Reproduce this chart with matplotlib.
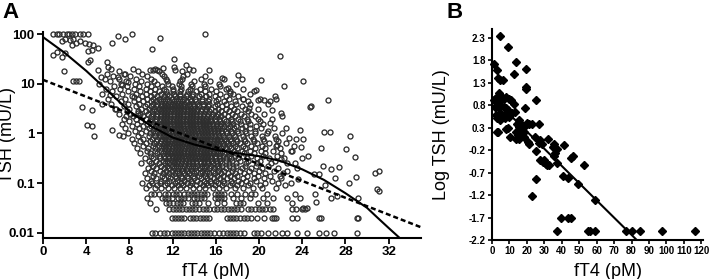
import matplotlib
matplotlib.use("Agg")
import matplotlib.pyplot as plt
import numpy as np

plt.rcParams["font.family"] = ["Liberation Sans", "DejaVu Sans"]

# ---------------- panel A data ----------------
# quantized low TSH rows (mU/L) and the fT4 values (pM) on each
low_tsh = [0.01, 0.02, 0.03, 0.04, 0.05, 0.06]
low_ft4 = [
    [10.1, 10.4, 10.8, 11.2, 11.5, 11.9, 12.2, 12.5, 12.8, 13.1, 13.4, 13.7, 14.0, 14.3,
     14.6, 14.9, 15.2, 15.5, 15.8, 16.3, 16.7, 17.0, 17.3, 17.6, 17.9, 18.2, 18.6, 19.5,
     19.8, 20.2, 20.8, 21.5, 22.1, 22.6, 23.5, 24.4, 25.6, 26.2, 26.9, 29.1],
    [11.9, 12.2, 12.5, 12.8, 13.1, 13.6, 13.9, 14.2, 14.5, 14.8, 15.1, 15.4, 17.0, 17.3,
     17.6, 17.9, 18.2, 18.6, 18.9, 19.3, 19.8, 20.5, 21.2, 21.4, 21.6, 23.1, 23.5, 25.6, 29.1],
    [10.5, 11.7, 12.0, 12.3, 12.6, 12.9, 13.2, 13.5, 13.8, 14.1, 14.4, 14.8, 15.1, 15.4,
     15.8, 16.1, 16.5, 16.8, 17.1, 17.4, 17.7, 18.0, 18.3, 19.0, 19.3, 19.6, 20.0, 20.3,
     20.6, 21.0, 21.3, 23.1, 23.4, 24.0, 24.3],
    [9.9, 11.4, 11.7, 12.0, 12.4, 12.7, 13.0, 13.8, 14.1, 14.4, 15.3, 16.1, 16.8, 17.9,
     18.2, 18.5, 19.9, 20.7, 23.1],
    [9.6, 11.0, 11.3, 11.6, 11.9, 12.5, 12.8, 13.1, 13.4, 14.0, 14.3, 14.6, 14.9, 15.9,
     16.2, 16.5, 16.8, 17.6, 18.3, 19.2, 20.4, 21.3, 22.6, 23.8],
    [10.0, 10.3, 10.7, 11.3, 11.6, 12.0, 12.3, 12.6, 13.1, 13.4, 13.7, 14.0, 14.3, 14.6,
     14.9, 15.2, 15.9, 16.2, 16.5, 16.8, 17.4, 18.0, 18.7, 19.3, 19.6, 20.7, 23.3],
]

# main cloud, read row by row
cloud_tsh = [0.08, 0.09, 0.10, 0.11, 0.13, 0.14, 0.16, 0.18, 0.20, 0.22, 0.25, 0.28,
             0.32, 0.35, 0.40, 0.45, 0.50, 0.56, 0.63, 0.71, 0.79, 0.89, 1.0, 1.12,
             1.26, 1.41, 1.58, 1.78, 2.0, 2.24, 2.51, 2.82, 3.16, 3.55, 3.98, 4.47,
             5.01, 5.62, 6.31, 7.08, 7.94, 8.91, 10.0, 11.2, 12.6, 14.1, 15.8, 17.8, 20.0]
cloud_ft4 = [
    [9.5, 10.4, 10.9, 11.6, 12.1, 12.7, 13.2, 13.9, 14.4, 15.0, 15.7, 16.3, 16.9, 17.8, 18.5, 19.4, 20.3, 21.6],
    [9.8, 10.6, 11.3, 11.9, 12.5, 13.0, 13.6, 14.2, 14.8, 15.3, 15.9, 16.6, 17.3, 18.0, 19.0, 20.1, 22.4],
    [9.2, 10.1, 10.8, 11.5, 12.2, 12.8, 13.3, 13.8, 14.5, 15.1, 15.6, 16.2, 16.8, 17.5, 18.3, 19.2, 20.6, 21.8, 23.0],
    [10.0, 10.9, 11.7, 12.4, 13.1, 13.7, 14.3, 14.9, 15.5, 16.0, 16.7, 17.4, 18.1, 18.8, 19.7, 21.2],
    [9.6, 10.5, 11.2, 11.8, 12.3, 12.9, 13.4, 14.0, 14.6, 15.2, 15.8, 16.4, 17.0, 17.7, 18.5, 19.5, 20.5, 22.0],
    [10.2, 11.0, 11.6, 12.2, 12.8, 13.3, 13.9, 14.4, 15.0, 15.5, 16.1, 16.7, 17.3, 18.0, 18.9, 19.9, 21.0],
    [9.4, 10.3, 11.1, 11.7, 12.2, 12.6, 13.1, 13.5, 14.0, 14.5, 15.0, 15.4, 15.9, 16.5, 17.1, 17.8, 18.6, 19.5, 20.6, 22.2],
    [10.0, 10.8, 11.4, 11.9, 12.4, 12.9, 13.3, 13.8, 14.2, 14.7, 15.2, 15.7, 16.2, 16.8, 17.5, 18.2, 19.1, 20.0, 21.4],
    [9.7, 10.5, 11.2, 11.7, 12.1, 12.5, 12.9, 13.3, 13.7, 14.1, 14.5, 14.9, 15.4, 15.8, 16.3, 16.9, 17.6, 18.4, 19.3, 20.3, 21.8, 23.5],
    [10.2, 10.9, 11.5, 11.9, 12.3, 12.7, 13.1, 13.5, 13.9, 14.3, 14.7, 15.1, 15.6, 16.1, 16.6, 17.2, 17.9, 18.7, 19.7, 20.8],
    [9.1, 10.0, 10.7, 11.3, 11.7, 12.1, 12.4, 12.8, 13.1, 13.5, 13.8, 14.2, 14.6, 14.9, 15.3, 15.7, 16.1, 16.6, 17.2, 17.9, 18.8, 19.8, 21.1, 22.6],
    [9.8, 10.5, 11.1, 11.5, 11.9, 12.2, 12.5, 12.9, 13.2, 13.5, 13.9, 14.2, 14.5, 14.9, 15.2, 15.6, 16.0, 16.4, 16.9, 17.5, 18.2, 19.0, 20.1, 21.5],
    [9.4, 10.2, 10.8, 11.3, 11.7, 12.0, 12.3, 12.6, 12.9, 13.2, 13.5, 13.8, 14.1, 14.4, 14.7, 15.0, 15.3, 15.6, 16.0, 16.4, 16.9, 17.4, 18.1, 18.9, 19.8, 20.9, 22.3, 24.0],
    [10.0, 10.7, 11.2, 11.6, 11.9, 12.2, 12.5, 12.8, 13.1, 13.4, 13.7, 14.0, 14.3, 14.6, 14.9, 15.2, 15.5, 15.9, 16.3, 16.7, 17.2, 17.8, 18.5, 19.3, 20.4, 21.7],
    [9.0, 9.9, 10.6, 11.1, 11.5, 11.8, 12.1, 12.4, 12.7, 13.0, 13.3, 13.6, 13.9, 14.2, 14.5, 14.8, 15.1, 15.4, 15.7, 16.0, 16.4, 16.8, 17.3, 17.9, 18.6, 19.5, 20.6, 22.0],
    [9.6, 10.4, 10.9, 11.3, 11.6, 11.9, 12.2, 12.5, 12.8, 13.1, 13.4, 13.7, 14.0, 14.3, 14.6, 14.9, 15.2, 15.5, 15.8, 16.2, 16.6, 17.1, 17.7, 18.4, 19.2, 20.2, 21.3, 23.1],
    [8.7, 9.7, 10.4, 10.9, 11.3, 11.6, 11.9, 12.2, 12.5, 12.8, 13.1, 13.4, 13.7, 14.0, 14.3, 14.6, 14.9, 15.2, 15.5, 15.8, 16.1, 16.5, 16.9, 17.4, 18.0, 18.7, 19.6, 20.6, 21.9],
    [9.3, 10.2, 10.7, 11.1, 11.4, 11.7, 12.0, 12.3, 12.6, 12.9, 13.2, 13.5, 13.8, 14.1, 14.4, 14.7, 15.0, 15.3, 15.6, 15.9, 16.3, 16.7, 17.2, 17.8, 18.5, 19.3, 20.3, 21.6, 23.2],
    [8.4, 9.5, 10.3, 10.8, 11.2, 11.5, 11.8, 12.1, 12.4, 12.7, 13.0, 13.3, 13.6, 13.9, 14.2, 14.5, 14.8, 15.1, 15.4, 15.7, 16.0, 16.3, 16.7, 17.1, 17.6, 18.2, 18.9, 19.8, 20.9, 22.5],
    [9.0, 9.9, 10.5, 10.9, 11.3, 11.6, 11.9, 12.2, 12.5, 12.8, 13.1, 13.4, 13.7, 14.0, 14.3, 14.6, 14.9, 15.2, 15.5, 15.8, 16.1, 16.5, 16.9, 17.4, 18.0, 18.7, 19.5, 20.5, 21.8],
    [8.2, 9.3, 10.1, 10.6, 11.0, 11.3, 11.6, 11.9, 12.2, 12.5, 12.8, 13.1, 13.4, 13.7, 14.0, 14.3, 14.6, 14.9, 15.2, 15.5, 15.8, 16.1, 16.4, 16.8, 17.3, 17.9, 18.6, 19.4, 20.4, 21.6, 23.4],
    [8.8, 9.8, 10.4, 10.8, 11.1, 11.4, 11.7, 12.0, 12.3, 12.6, 12.9, 13.2, 13.5, 13.8, 14.1, 14.4, 14.7, 15.0, 15.3, 15.6, 15.9, 16.3, 16.7, 17.2, 17.8, 18.5, 19.3, 20.3, 21.5],
    [7.9, 9.1, 9.9, 10.4, 10.8, 11.1, 11.4, 11.7, 12.0, 12.3, 12.6, 12.9, 13.2, 13.5, 13.8, 14.1, 14.4, 14.7, 15.0, 15.3, 15.6, 15.9, 16.2, 16.6, 17.0, 17.5, 18.1, 18.8, 19.6, 20.7, 22.1],
    [8.5, 9.5, 10.2, 10.6, 11.0, 11.3, 11.6, 11.9, 12.2, 12.5, 12.8, 13.1, 13.4, 13.7, 14.0, 14.3, 14.6, 14.9, 15.2, 15.5, 15.8, 16.1, 16.5, 16.9, 17.4, 18.0, 18.7, 19.6, 20.8],
    [7.6, 8.9, 9.8, 10.3, 10.7, 11.0, 11.3, 11.6, 11.9, 12.2, 12.5, 12.8, 13.1, 13.4, 13.7, 14.0, 14.3, 14.6, 14.9, 15.2, 15.5, 15.8, 16.2, 16.6, 17.1, 17.7, 18.4, 19.2, 20.2, 21.4],
    [8.2, 9.3, 10.0, 10.5, 10.9, 11.2, 11.5, 11.8, 12.1, 12.4, 12.7, 13.0, 13.3, 13.6, 13.9, 14.2, 14.5, 14.8, 15.1, 15.4, 15.7, 16.0, 16.4, 16.8, 17.3, 17.9, 18.7, 19.7],
    [7.3, 8.7, 9.6, 10.2, 10.6, 10.9, 11.2, 11.5, 11.8, 12.1, 12.4, 12.7, 13.0, 13.3, 13.6, 13.9, 14.2, 14.5, 14.8, 15.1, 15.4, 15.7, 16.1, 16.5, 17.0, 17.6, 18.3, 19.2, 20.4],
    [8.0, 9.1, 9.9, 10.4, 10.8, 11.1, 11.4, 11.7, 12.0, 12.3, 12.6, 12.9, 13.2, 13.5, 13.8, 14.1, 14.4, 14.7, 15.0, 15.3, 15.6, 16.0, 16.4, 16.9, 17.5, 18.2, 19.0, 20.1],
    [7.5, 8.6, 9.5, 10.1, 10.5, 10.9, 11.2, 11.5, 11.8, 12.1, 12.4, 12.7, 13.0, 13.3, 13.6, 13.9, 14.2, 14.5, 14.8, 15.1, 15.5, 15.9, 16.3, 16.8, 17.4, 18.1, 18.9, 19.9, 21.2],
    [8.3, 9.3, 10.0, 10.5, 10.9, 11.2, 11.5, 11.8, 12.1, 12.4, 12.7, 13.0, 13.3, 13.6, 13.9, 14.2, 14.5, 14.8, 15.2, 15.6, 16.0, 16.5, 17.1, 17.8, 18.6, 19.6],
    [7.0, 8.1, 9.0, 9.7, 10.2, 10.6, 10.9, 11.2, 11.5, 11.8, 12.1, 12.4, 12.7, 13.0, 13.3, 13.6, 13.9, 14.2, 14.5, 14.9, 15.3, 15.7, 16.2, 16.8, 17.5, 18.3, 19.3, 20.5],
    [7.8, 8.8, 9.5, 10.1, 10.5, 10.9, 11.2, 11.5, 11.8, 12.1, 12.4, 12.7, 13.0, 13.3, 13.6, 13.9, 14.2, 14.6, 15.0, 15.4, 15.9, 16.5, 17.2, 18.0, 19.0],
    [6.7, 8.0, 9.1, 9.8, 10.3, 10.7, 11.0, 11.3, 11.6, 11.9, 12.2, 12.5, 12.8, 13.1, 13.4, 13.7, 14.0, 14.3, 14.7, 15.1, 15.6, 16.2, 16.9, 17.7, 18.7, 19.9],
    [7.5, 8.6, 9.4, 10.0, 10.5, 10.9, 11.2, 11.5, 11.8, 12.1, 12.4, 12.7, 13.0, 13.3, 13.6, 14.0, 14.4, 14.8, 15.3, 15.9, 16.6, 17.4, 18.4],
    [6.3, 7.9, 8.9, 9.6, 10.2, 10.6, 11.0, 11.3, 11.6, 11.9, 12.2, 12.5, 12.8, 13.1, 13.5, 13.9, 14.3, 14.8, 15.4, 16.1, 16.9, 17.9, 19.2, 20.8],
    [7.2, 8.4, 9.3, 10.0, 10.5, 10.9, 11.3, 11.7, 12.1, 12.5, 12.9, 13.3, 13.7, 14.2, 14.7, 15.3, 16.0, 16.8, 17.8, 19.0],
    [6.0, 7.6, 8.8, 9.6, 10.2, 10.7, 11.1, 11.5, 11.9, 12.3, 12.7, 13.1, 13.6, 14.1, 14.7, 15.4, 16.2, 17.2, 18.5, 20.1, 21.6],
    [6.8, 8.2, 9.2, 10.0, 10.6, 11.2, 11.7, 12.2, 12.7, 13.2, 13.8, 14.4, 15.1, 15.9, 16.9, 18.1],
    [5.5, 7.3, 8.6, 9.5, 10.3, 10.9, 11.5, 12.1, 12.7, 13.3, 13.9, 14.6, 15.4, 16.4, 17.6, 19.2],
    [6.4, 7.9, 9.0, 9.9, 10.7, 11.4, 12.0, 12.7, 13.4, 14.2, 15.0, 16.0, 17.3],
    [5.8, 7.1, 8.4, 9.5, 10.4, 11.2, 12.0, 12.8, 13.6, 14.5, 15.6, 16.9, 18.5],
    [6.6, 7.8, 8.9, 10.0, 11.0, 11.9, 12.8, 13.8, 15.0, 16.4],
    [5.2, 7.2, 8.5, 9.6, 10.6, 11.6, 12.6, 13.7, 14.9, 16.3, 17.9],
    [6.2, 7.7, 9.1, 10.3, 11.5, 12.7, 14.0, 15.5],
    [5.7, 7.0, 8.6, 10.0, 11.4, 12.9, 14.6, 16.8],
    [6.5, 8.1, 9.6, 11.2, 13.0, 15.0],
    [5.9, 7.5, 9.2, 11.0, 13.3],
    [7.0, 8.8, 10.7, 12.9],
    [6.3, 8.3, 10.4, 13.5],
]

# scattered single points outside the cloud
spread_ft4 = [0.95, 1.26, 1.5, 1.88, 2.2, 2.4, 2.7, 2.96, 3.4, 3.7, 4.2, 8.2, 15.0,
              2.0, 2.5, 2.8, 3.4, 3.9, 4.3, 2.65, 3.1, 1.73, 4.65, 5.06, 6.35, 6.9, 7.6, 10.8,
              0.95, 1.27, 1.73, 2.0, 4.2, 4.5, 4.35, 4.2, 1.9, 2.8, 3.1, 3.35, 3.6, 4.5,
              5.9, 6.0, 5.4, 5.1, 6.97, 7.6, 10.1, 12.1, 21.9, 24.1, 26.4, 24.7, 22.3, 20.2,
              21.5, 18.1, 18.4, 16.6, 15.4, 13.2, 13.9, 11.1, 12.1, 12.2, 9.9, 10.2, 10.6,
              19.5, 19.7, 17.1, 17.3, 18.5, 19.1, 19.9, 20.5, 21.0, 21.2, 22.0, 22.1,
              4.1, 4.5, 4.7, 6.4, 7.0, 7.4, 5.5, 6.2, 6.8, 7.3, 7.9, 8.4, 8.8, 7.7,
              24.8, 23.8, 24.1, 26.0, 26.6, 28.4, 23.9, 24.5, 25.7, 28.1, 28.9, 30.7, 31.1,
              25.9, 26.7, 27.4, 27.0, 25.1, 25.6, 28.3, 29.0, 26.1, 25.2, 25.3, 27.2, 26.7,
              24.1, 24.4, 29.2, 25.7, 30.9, 31.1, 29.2,
              21.0, 22.5, 22.8, 21.7, 23.0, 22.0, 23.3, 22.6, 21.9, 23.6]
spread_tsh = [100, 100, 100, 100, 100, 100, 100, 100, 100, 100, 100, 100, 100,
              81, 76, 81, 74, 65, 62, 60, 65, 71, 59, 52, 65, 91, 78, 85,
              38, 43, 35, 41, 45, 48, 30, 28, 18, 11.5, 11.5, 11.5, 3.4, 3.0,
              27, 22, 14, 19, 14, 16, 50, 32, 36, 11.5, 4.8, 3.4, 9.1, 12,
              5.8, 15, 12.3, 12.9, 18.6, 24, 19, 21, 22, 19, 19, 19, 18.6,
              7.1, 7.4, 8.1, 6.5, 4.9, 3.2, 4.8, 4.8, 4.5, 3.0, 2.6, 2.2,
              1.5, 1.4, 0.91, 1.2, 0.95, 0.9, 4.0, 6.0, 3.1, 9.5, 11, 5.5, 2.6, 2.2,
              3.5, 1.15, 0.76, 1.07, 1.07, 0.91, 0.54, 0.35, 0.5, 0.48, 0.34, 0.16, 0.18,
              0.22, 0.19, 0.21, 0.13, 0.155, 0.155, 0.10, 0.135, 0.091, 0.06, 0.041, 0.056, 0.051,
              0.031, 0.031, 0.02, 0.02, 0.078, 0.071, 0.051,
              1.6, 1.3, 0.8, 0.6, 0.45, 0.3, 0.25, 0.18, 0.14, 0.12]

# fitted curves
solid_ft4 = [0, 2, 4, 6, 8, 10, 12, 14, 16, 18, 20, 22, 24, 26, 28, 30, 31, 32, 33]
solid_tsh = [87, 42, 18.2, 7.2, 2.8, 1.41, 0.83, 0.60, 0.47, 0.40, 0.35, 0.28, 0.19,
             0.117, 0.063, 0.032, 0.020, 0.0126, 0.0080]
dashed_ft4 = [0, 35]
dashed_tsh = [12.0, 0.013]

# ---------------- panel B data ----------------
b_ft4 = [4.8, 9.0, 1.0, 13.9, 2.9, 19.6, 3.4, 4.8, 6.5, 12.4, 19.6, 19.4, 3.8, 25.1, 19.2,
         2.9, 9.1, 10.5, 20.0, 22.9, 26.9, 15.2, 21.0, 27.6, 28.6, 32.4, 35.6, 37.1, 41.5,
         25.1, 27.6, 29.5, 31.4, 35.8, 37.1, 41.0, 43.4, 45.1, 46.3, 52.6, 49.3, 25.5, 23.2,
         59.0, 39.4, 43.8, 45.3, 37.1, 55.2, 56.2, 59.0, 77.1, 80.4, 84.8, 97.5, 116.2,
         1.9, 2.9, 1.0, 3.8, 4.8, 5.7, 6.7, 8.2, 9.5, 11.0, 12.4, 1.9, 3.8, 4.8, 6.7, 8.2,
         9.1, 4.8, 6.7, 8.6, 2.9, 4.8, 7.6, 9.5, 2.5, 11.4, 13.3, 8.2, 3.4,
         15.2, 14.3, 16.6, 15.4, 16.2, 13.9, 14.7, 15.8, 17.1, 18.1, 18.5, 21.5, 13.9,
         20.4, 18.1, 24.8, 26.7, 29.9, 31.0, 32.8, 35.2, 36.2]
b_log_tsh = [2.34, 2.10, 1.73, 1.77, 1.58, 1.60, 1.41, 1.36, 1.36, 1.49, 1.20, 1.17, 1.08,
             0.92, 0.74, 0.21, 0.30, 0.10, 0.41, 0.38, 0.39, 0.06, -0.06, 0.02, -0.06, 0.04,
             -0.06, -0.18, -0.09, -0.21, -0.41, -0.46, -0.52, -0.33, -0.48, -0.77, -0.83,
             -0.37, -0.33, -0.52, -0.96, -0.85, -1.23, -1.31, -1.70, -1.70, -1.70, -2.0,
             -2.0, -2.0, -2.0, -2.0, -2.0, -2.0, -2.0, -2.0,
             0.95, 0.99, 0.91, 0.88, 0.91, 0.99, 0.95, 0.99, 0.95, 0.91, 0.84, 0.77, 0.73,
             0.80, 0.77, 0.73, 0.69, 0.62, 0.58, 0.58, 0.51, 0.47, 0.51, 0.54, 0.58, 0.62,
             0.65, 0.28, 0.21,
             0.47, 0.39, 0.38, 0.32, 0.25, 0.21, 0.14, 0.17, 0.14, 0.32, 0.21, 0.39, 0.06,
             -0.01, 0.10, 0.10, -0.05, -0.42, -0.50, -0.52, -0.12, -0.27]
b_fit_ft4 = [10.0, 83.0]
b_fit_log_tsh = [0.60, -2.20]

# ---------------- figure ----------------
fig = plt.figure(figsize=(7.09, 2.79), dpi=100)
ax_a = fig.add_axes([43 / 709, 1 - 238 / 279, 378 / 709, 206 / 279])
ax_b = fig.add_axes([492 / 709, 1 - 240 / 279, 211 / 709, 211 / 279])

pts_x = []
pts_y = []
for tsh, xs in zip(low_tsh + cloud_tsh, low_ft4 + cloud_ft4):
    pts_x += xs
    pts_y += [tsh] * len(xs)
pts_x += spread_ft4
pts_y += spread_tsh

ax_a.plot(pts_x, pts_y, "o", ms=3.6, mfc="none", mec="#2e2e2e", mew=0.95,
          clip_on=False, zorder=2)
ax_a.plot(solid_ft4, solid_tsh, "-", color="black", lw=1.5, zorder=3)
ax_a.plot(dashed_ft4, dashed_tsh, color="black", lw=1.8, ls=(0, (2.0, 1.2)), zorder=3)

ax_a.set_yscale("log")
ax_a.set_xlim(0, 35)
ax_a.set_ylim(0.0079, 110)
ax_a.set_xticks(range(0, 33, 4))
ax_a.set_xticklabels([str(v) for v in range(0, 33, 4)], fontweight="bold")
ax_a.set_yticks([0.01, 0.1, 1, 10, 100])
ax_a.set_yticklabels(["0.01", "0.1", "1", "10", "100"], fontweight="bold")
ax_a.minorticks_off()
ax_a.tick_params(direction="out", length=4, width=1.3, labelsize=9.5, pad=2)
ax_a.set_xlabel("fT4 (pM)", fontsize=13)
ax_a.set_ylabel("TSH (mU/L)", fontsize=13)
ax_a.xaxis.set_label_coords(0.458, -0.12)
ax_a.yaxis.set_label_coords(-0.072, 0.5)

ax_b.plot(b_ft4, b_log_tsh, "D", ms=3.8, color="black", clip_on=False, zorder=3)
ax_b.plot(b_fit_ft4, b_fit_log_tsh, "-", color="black", lw=1.5, zorder=2)
ax_b.set_xlim(0, 121)
ax_b.set_ylim(-2.2, 2.5)
b_xt = list(range(0, 121, 10))
ax_b.set_xticks(b_xt)
ax_b.set_xticklabels([str(v) for v in b_xt], fontweight="bold")
b_yt = [-2.2, -1.7, -1.2, -0.7, -0.2, 0.3, 0.8, 1.3, 1.8, 2.3]
ax_b.set_yticks(b_yt)
ax_b.set_yticklabels([f"{v:.1f}" for v in b_yt], fontweight="bold")
ax_b.tick_params(direction="out", length=3, width=1.2, labelsize=7, pad=1.5)
ax_b.set_xlabel("fT4 (pM)", fontsize=13)
ax_b.set_ylabel("Log TSH (mU/L)", fontsize=13)
ax_b.xaxis.set_label_coords(0.548, -0.11)
ax_b.yaxis.set_label_coords(-0.2, 0.5)

for ax in (ax_a, ax_b):
    ax.spines["top"].set_visible(False)
    ax.spines["right"].set_visible(False)
    ax.spines["left"].set_linewidth(1.5)
    ax.spines["bottom"].set_linewidth(1.5)

fig.text(2 / 709, 1 - 2 / 279, "A", fontsize=16, fontweight="bold", va="top", ha="left")
fig.text(446 / 709, 1 - 2 / 279, "B", fontsize=16, fontweight="bold", va="top", ha="left")

fig.savefig("out.png", dpi=100)
